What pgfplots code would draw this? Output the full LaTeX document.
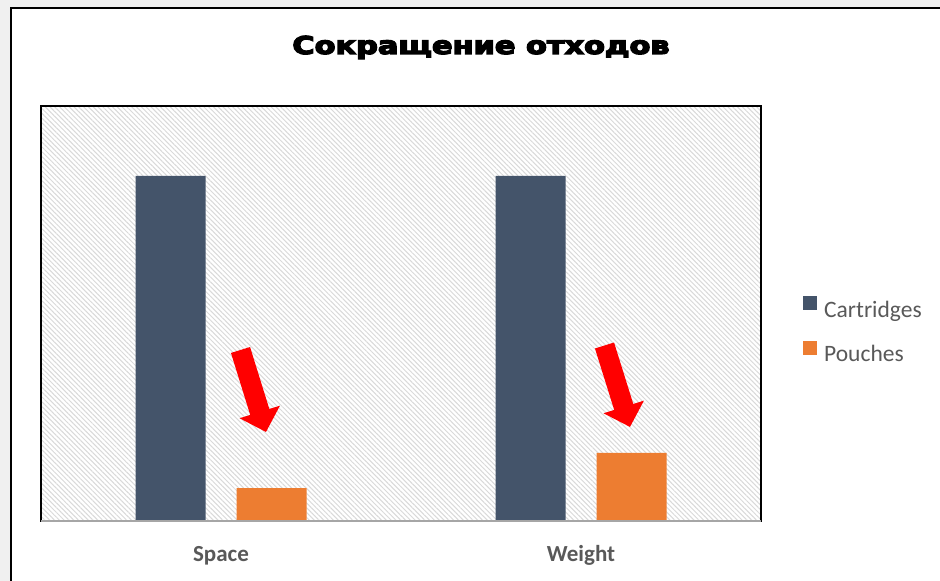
\documentclass[border=0pt]{standalone}
\usepackage{pgfplots}
\pgfplotsset{compat=1.18}
\usepackage{fontspec}
\setmainfont{Carlito}
\newfontfamily\titlefont[FakeBold=5]{DejaVu Sans Bold}
\usetikzlibrary{patterns.meta,arrows.meta}
\definecolor{cart}{HTML}{44546A}
\definecolor{pouch}{HTML}{ED7D31}
\definecolor{txt}{HTML}{595959}
\definecolor{hatch}{HTML}{D9D9D9}
\definecolor{outer}{HTML}{F0F0F0}
\definecolor{axgray}{HTML}{A6A6A6}
\begin{document}
\begin{tikzpicture}
\path[use as bounding box] (0,0) rectangle (940bp,581bp);
\fill[outer] (0,0) rectangle (940bp,581bp);
\fill[white] (11bp,-10bp) rectangle (960bp,573bp);
\draw[black, line width=2.5bp] (11bp,-10bp) -- (11bp,573bp) -- (960bp,573bp);
\node[anchor=base, inner sep=0pt] at (481bp,527bp) {\titlefont\fontsize{24.5bp}{27bp}\selectfont\scalebox{1.24}[1]{Сокращение отходов}};
\begin{axis}[
  at={(41bp,60bp)}, anchor=south west,
  scale only axis, width=720bp, height=415bp,
  xmin=-0.5, xmax=1.5, ymin=0, ymax=120,
  axis line style={black, line width=1.5bp},
  xtick={0,1}, xticklabels={Space,Weight},
  ytick=\empty, major tick length=0pt,
  xticklabel style={anchor=base, yshift=-40bp, font=\bfseries\fontsize{23bp}{26bp}\selectfont, text=txt},
  axis background/.style={pattern={Lines[angle=-45,distance=3.4bp,line width=1bp]}, pattern color=hatch},
  ybar, bar width=70bp,
  legend style={draw=none, fill=none, inner sep=0pt, at={(axis description cs:1.0583,0.459)}, anchor=west,
    font=\fontsize{23.5bp}{28bp}\selectfont, text=txt, row sep=20bp,
    /tikz/every odd column/.style={column sep=5bp}},
  legend cell align=left,
  legend image code/.code={\fill (0bp,0bp) rectangle (14bp,14bp);},
  after end axis/.code={\draw[axgray, line width=1.5bp] (rel axis cs:0,0) -- (rel axis cs:1,0);},
]
\addplot[fill=cart, draw=none, bar shift=-50.5bp] coordinates {(0,99.8) (1,99.8)};
\addplot[fill=pouch, draw=none, bar shift=50.5bp] coordinates {(0,9.5) (1,19.7)};
\legend{Cartridges, Pouches}
\draw[red, line width=20bp, -{Triangle[length=21bp,width=41bp]}] (axis cs:0.0542,49.45) -- (axis cs:0.125,25.73);
\draw[red, line width=20bp, -{Triangle[length=21bp,width=41bp]}] (axis cs:1.0653,50.75) -- (axis cs:1.1361,27.18);
\end{axis}
\end{tikzpicture}
\end{document}
